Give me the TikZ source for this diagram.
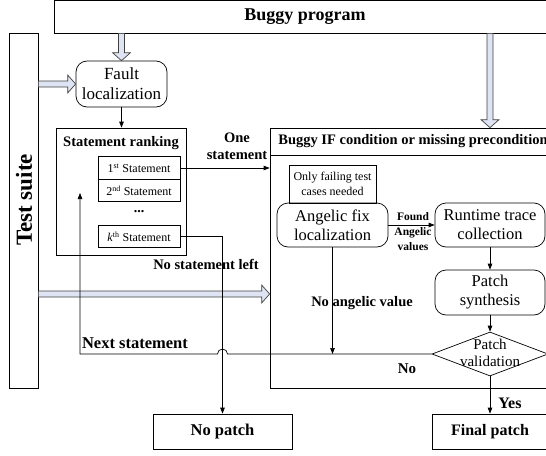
\documentclass[tikz,border=0pt]{standalone}
\usepackage{fontspec}
\setmainfont{Liberation Serif}
\usetikzlibrary{arrows.meta,shapes.geometric,calc}
\definecolor{arrowfill}{RGB}{222,228,243}
\tikzset{
  box/.style={draw,rectangle,inner sep=1pt},
  proc/.style={draw,rounded corners=11pt,inner sep=1pt,align=center,font=\fontsize{16.5}{19}\selectfont},
  lbl/.style={align=center,font=\bfseries\fontsize{14.5}{17}\selectfont},
  item/.style={box,minimum width=82pt,minimum height=22.5pt,font=\fontsize{12}{14}\selectfont},
}
% hollow block arrow from #1 to #2
\newcommand\fatarrow[2]{%
  \path[draw=black!75,fill=arrowfill,line width=0.7pt] let \p1=(#1),\p2=(#2),
    \n1={atan2(\y2-\y1,\x2-\x1)},\n2={veclen(\x2-\x1,\y2-\y1)} in
    [shift={(\p1)},rotate=\n1] (0pt,-3pt) -- (\n2-8pt,-3pt) -- (\n2-8pt,-9pt) -- (\n2,0pt)
    -- (\n2-8pt,9pt) -- (\n2-8pt,3pt) -- (0pt,3pt) -- cycle;}
\begin{document}
\begin{tikzpicture}[x=1pt,y=-1pt,line width=0.7pt,>={Triangle[length=6pt,width=4.5pt]}]
\useasboundingbox (0,0) rectangle (546,455);
\clip (0,0) rectangle (546,455);
% inputs
\node[box,minimum width=502pt,minimum height=33pt,font=\bfseries\fontsize{18}{20}\selectfont] (prog) at (305,16.5) {Buggy program};
\node[box,minimum width=29pt,minimum height=355pt] (suite) at (23.5,210.5) {};
\node[rotate=90,font=\bfseries\fontsize{23}{25}\selectfont] (suitetext) at (24,200) {Test suite};
\node[proc,minimum width=91pt,minimum height=46pt,font=\fontsize{17}{20}\selectfont] (fault) at (121.5,84) {Fault\\localization};
% statement ranking
\node[box,minimum width=130pt,minimum height=127pt] (rank) at (121,191.5) {};
\node[lbl] (ranktitle) at (121,143) {Statement ranking};
\node[item] (s1) at (139,168) {1\textsuperscript{st} Statement};
\node[item] (s2) at (139,190.5) {2\textsuperscript{nd} Statement};
\node[font=\bfseries\fontsize{14}{16}\selectfont] (dots) at (139,212) {...};
\node[item] (sk) at (139,236.5) {\textit{k}\textsuperscript{th} Statement};
% repair of the IF condition
\node[box,minimum width=286pt,minimum height=27pt,lbl] (hdr) at (413,141.5) {Buggy IF condition or missing precondition};
\node[box,minimum width=286pt,minimum height=233pt] (body) at (413,271.5) {};
\node[box,minimum width=87pt,minimum height=38pt,align=center,font=\fontsize{12}{15}\selectfont] (only) at (332.5,184) {Only failing test\\cases needed};
\node[proc,minimum width=111pt,minimum height=44pt] (angelic) at (332.5,225) {Angelic fix\\localization};
\node[proc,minimum width=110pt,minimum height=44pt] (runtime) at (490,225) {Runtime trace\\collection};
\node[proc,minimum width=110pt,minimum height=45pt] (synth) at (490,292.5) {Patch\\synthesis};
\node[diamond,draw,minimum width=116pt,minimum height=44pt,inner sep=0pt] (valid) at (490,354) {};
\node[align=center,font=\fontsize{15}{17}\selectfont] (validtext) at (490,353) {Patch\\validation};
% outputs
\node[box,minimum width=139pt,minimum height=35pt,font=\bfseries\fontsize{16.5}{18}\selectfont] (nopatch) at (222.5,431.5) {No patch};
\node[box,minimum width=116pt,minimum height=35pt,font=\bfseries\fontsize{16}{18}\selectfont] (final) at (490,431.5) {Final patch};
% block arrows
\fatarrow{prog.south -| fault}{fault.north}
\fatarrow{suite.east |- fault}{fault.west}
\fatarrow{prog.south -| runtime}{hdr.north -| runtime}
\fatarrow{suite.east |- 0,294}{body.west |- 0,294}
% flow
\coordinate (back) at (80,193);
\draw[->] (fault.south) -- (fault.south |- rank.north);
\draw[->] (s1.east) -- (s1.east -| body.west);
\draw[->] (sk.east) -- (sk.east -| nopatch) -- (nopatch.north);
\draw[->] (angelic.east) -- (runtime.west);
\draw[->] (angelic.south) -- (angelic.south |- valid);
\draw[->] (runtime) -- (synth);
\draw[->] (synth) -- (valid);
\draw[->] (valid) -- (final);
\draw[->] (valid.west) -- ($(nopatch |- valid)+(5pt,0)$) arc (0:180:5pt) -- (back |- valid) -- (back);
% labels
\node[lbl] (onelbl) at (237,146) {One\\statement};
\node[lbl] (noleft) at (206,264) {No statement left};
\node[lbl,font=\bfseries\fontsize{11.5}{15}\selectfont] (foundlbl) at (413,232) {Found\\Angelic\\values};
\node[lbl] (noangel) at (362,303) {No angelic value};
\node[lbl,font=\bfseries\fontsize{16.5}{18}\selectfont] (nextlbl) at (135,343) {Next statement};
\node[lbl,font=\bfseries\fontsize{15}{17}\selectfont] (nolbl) at (407,369) {No};
\node[lbl,font=\bfseries\fontsize{16}{18}\selectfont] (yeslbl) at (510,403) {Yes};
\end{tikzpicture}
\end{document}
